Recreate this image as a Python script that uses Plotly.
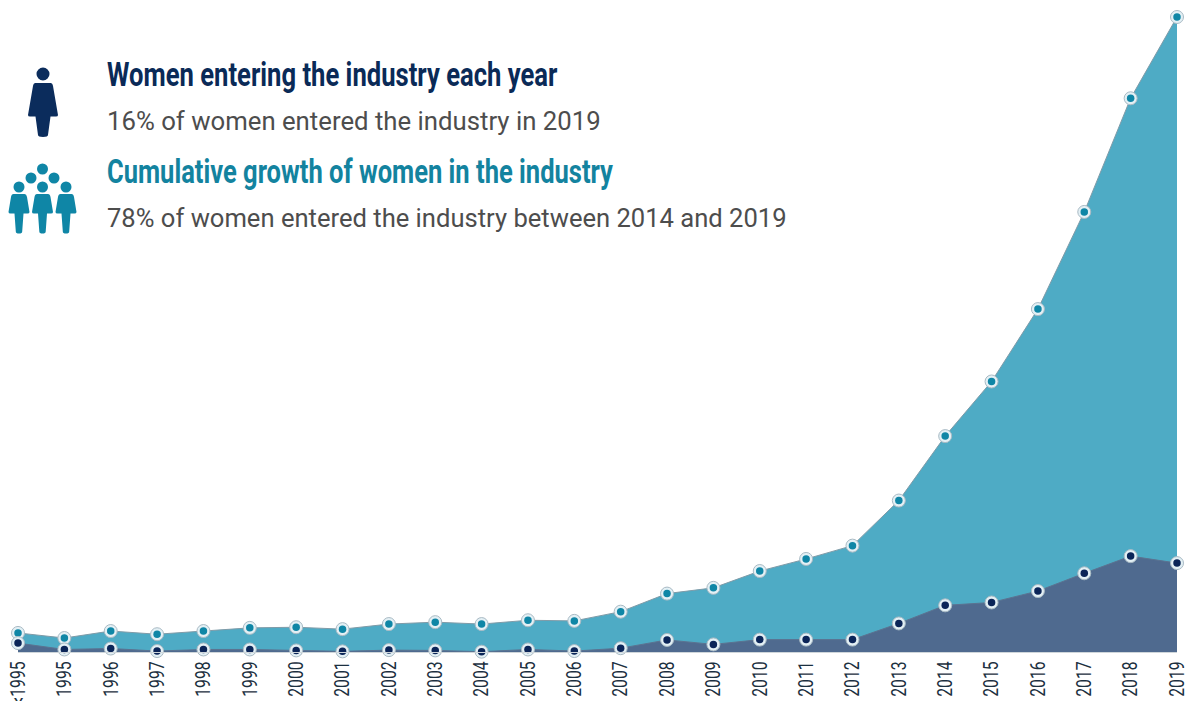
import json
import plotly.graph_objects as go

W, H = 1188, 701
LEFT, RIGHT, BOTTOM = 18, 1177, 652

years = ["<1995"] + [str(y) for y in range(1995, 2020)]
# Both series are expressed as a share of the 2019 cumulative total
cumulative = [3.0, 2.2, 3.3, 2.8, 3.3, 3.8, 3.9, 3.6, 4.4, 4.7, 4.4, 5.0, 4.9,
              6.35, 9.2, 10.1, 12.75, 14.65, 16.75, 23.85, 34.0, 42.6, 54.0, 69.3, 87.2, 100.0]
annual = [1.4, 0.4, 0.55, 0.15, 0.4, 0.4, 0.25, 0.1, 0.3, 0.25, 0.05, 0.4, 0.15,
          0.6, 1.9, 1.2, 1.95, 1.95, 1.95, 4.5, 7.35, 7.8, 9.6, 12.4, 15.1, 14.0]

heading_one = "Women entering the industry each year"
note_one = "16% of women entered the industry in 2019"
heading_two = "Cumulative growth of women in the industry"
note_two = "78% of women entered the industry between 2014 and 2019"
caption_widths = [451, 494, 507, 680]

NAVY = "#0b2c5c"
TEAL = "#0f86a6"
GREY_TEXT = "#4d4d4d"


def px(x):
    return (x - LEFT) / (RIGHT - LEFT)


def py(y):
    return (BOTTOM - y) / BOTTOM


def woman(cx, top, skirt, bottom, half_top, half_skirt, half_leg, half_foot, color):
    def p(a, b):
        return f"{px(a):.5f},{py(b):.5f}"
    path = (f"M{p(cx - half_top + 2, top)} L{p(cx + half_top - 2, top)} "
            f"Q{p(cx + half_top, top)} {p(cx + half_top + 0.5, top + 3)} "
            f"L{p(cx + half_skirt, skirt)} Q{p(cx + half_skirt, skirt + 1.5)} {p(cx + half_skirt - 2, skirt + 1.5)} "
            f"L{p(cx + half_leg, skirt + 1.5)} L{p(cx + half_foot, bottom - 2)} "
            f"Q{p(cx + half_foot, bottom)} {p(cx, bottom)} Q{p(cx - half_foot, bottom)} {p(cx - half_foot, bottom - 2)} "
            f"L{p(cx - half_leg, skirt + 1.5)} L{p(cx - half_skirt + 2, skirt + 1.5)} "
            f"Q{p(cx - half_skirt, skirt + 1.5)} {p(cx - half_skirt, skirt)} "
            f"L{p(cx - half_top - 0.5, top + 3)} Q{p(cx - half_top, top)} {p(cx - half_top + 2, top)} Z")
    return dict(type="path", xref="paper", yref="paper", path=path, line_width=0, fillcolor=color)


def head(cx, cy, r, color):
    return dict(type="circle", xref="paper", yref="paper", fillcolor=color, line_width=0,
                x0=px(cx - r), x1=px(cx + r), y0=py(cy + r), y1=py(cy - r))


shapes = [head(43, 74, 6.5, NAVY), woman(43, 83, 115, 137, 9.5, 15, 7.5, 5, NAVY)]
for cx in (19, 42.5, 66):
    shapes.append(head(cx, 187, 5.5, TEAL))
    shapes.append(woman(cx, 194, 212, 233.5, 7.5, 10.5, 4.5, 3.2, TEAL))
for cx, cy in ((42.5, 169), (31, 178), (54, 178)):
    shapes.append(head(cx, cy, 5.5, TEAL))


def caption(text, y, size, color):
    return dict(text=text, xref="paper", yref="paper", x=px(107), y=py(y), xanchor="left",
                yanchor="middle", showarrow=False, align="left", borderpad=0, borderwidth=0,
                font=dict(size=size, color=color, family="Roboto"))


annotations = [
    caption(f"<b>{heading_one}</b>", 74, 34, "#0a2a57"),
    caption(note_one, 121, 25, GREY_TEXT),
    caption(f"<b>{heading_two}</b>", 171, 34, "#13839f"),
    caption(note_two, 219, 25, GREY_TEXT),
]

fig = go.Figure()
fig.add_trace(go.Scatter(x=years, y=cumulative, mode="lines", fill="tozeroy",
                         fillcolor="#4eabc5", line=dict(color="#7f9ba8", width=1)))
fig.add_trace(go.Scatter(x=years, y=annual, mode="lines", fill="tozeroy",
                         fillcolor="#4f6a8f", line=dict(color="#5b7391", width=1)))


def add_dots(values, color):
    fig.add_trace(go.Scatter(x=years, y=values, mode="markers", cliponaxis=False,
                             marker=dict(size=13, color="#e3f0f5",
                                         line=dict(color="#a9bac4", width=1))))
    fig.add_trace(go.Scatter(x=years, y=values, mode="markers", cliponaxis=False,
                             marker=dict(size=7.5, color=color)))


add_dots(cumulative, "#0f86a6")
add_dots(annual, "#0b2558")

fig.update_layout(
    width=W, height=H, showlegend=False, paper_bgcolor="white", plot_bgcolor="white",
    margin=dict(l=LEFT, r=W - RIGHT, t=0, b=H - BOTTOM, pad=0, autoexpand=False),
    shapes=shapes, annotations=annotations, hovermode=False,
)
fig.update_xaxes(type="category", range=[0, 25], tickangle=-90, ticks="", showgrid=False,
                 automargin=False, showline=True, linecolor="#cfd6da", linewidth=1,
                 zeroline=False, tickfont=dict(size=21, color="#1c3040", family="Roboto"))
fig.update_yaxes(range=[0, 100 * BOTTOM / (BOTTOM - 17)], visible=False, fixedrange=True)

# The captions and year labels are set in a condensed cut, so squeeze the Roboto glyphs horizontally
condense = """
var widths = %s;
function squeeze(node, ratio, originX) {
  var base = node.getAttribute('transform') || '';
  node.setAttribute('transform', base + ' translate(' + originX + ' 0) scale(' + ratio + ' 1) translate(' + (-originX) + ' 0)');
}
document.querySelectorAll('.annotation-text').forEach(function (node, i) {
  var box = node.getBBox();
  squeeze(node, widths[i] / box.width, box.x);
});
document.querySelectorAll('.xtick text').forEach(function (node) {
  squeeze(node, 0.75, parseFloat(node.getAttribute('x')));
});
""" % json.dumps(caption_widths)

fig.write_html("out.html", config={"displayModeBar": False}, post_script=condense)
